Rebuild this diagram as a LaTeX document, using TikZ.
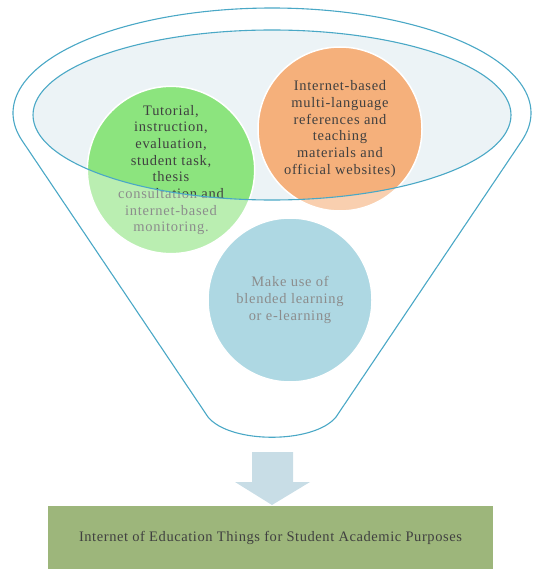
\documentclass[tikz,border=0pt]{standalone}
\usepackage{fontspec}
\setmainfont{Liberation Serif}
\newfontfamily\spacedfont[LetterSpace=5]{Liberation Serif}
\newfontfamily\boxfont[LetterSpace=4]{Liberation Serif}
\definecolor{funline}{HTML}{4AA8C6}
\definecolor{ellfill}{HTML}{ECF3F6}
\definecolor{cgreen}{HTML}{8CE47E}
\definecolor{corange}{HTML}{F5B07B}
\definecolor{cblue}{HTML}{78BFD1}
\definecolor{ctext}{HTML}{404040}
\definecolor{arrowc}{HTML}{C8DDE6}
\definecolor{boxc}{HTML}{9DB67B}
\tikzset{
  circ/.style={circle, minimum size=164pt, inner sep=0pt, draw=white, line width=1.5pt,
    align=center, text=ctext, font=\spacedfont\fontsize{14.5}{16.7}\selectfont},
  funnelstroke/.style={draw=funline, line width=1.1pt},
}
\begin{document}
\begin{tikzpicture}[x=1pt,y=-1pt]
\useasboundingbox (0,0) rectangle (540,569);
% inner ellipse fill
\fill[ellfill] (272,115) ellipse [x radius=239, y radius=85];
% circles
\node[circ, fill=cgreen] (g) at (171,170) {Tutorial,\\instruction,\\evaluation,\\student task,\\thesis\\consultation and\\internet-based\\monitoring.};
\node[circ, fill=corange] (o) at (340,129) {Internet-based\\multi-language\\references and\\teaching\\materials and\\official websites)};
\node[circ, fill=cblue] (b) at (290,300) {Make use of\\blended learning\\or e-learning};
% translucent funnel body
\fill[white, fill opacity=0.4, even odd rule]
  (336,417) -- (522.2,140.2) -- plot[domain=-15:195, samples=120, smooth] ({272+259*cos(\x)}, {113-105*sin(\x)})
  -- (208,417) .. controls (230,444) and (314,444) .. (336,417) -- cycle
  (272,115) ellipse [x radius=239, y radius=85];
% funnel outline
\draw[funnelstroke, line join=round]
  (336,417) -- (522.2,140.2) -- plot[domain=-15:195, samples=120, smooth] ({272+259*cos(\x)}, {113-105*sin(\x)})
  -- (208,417) .. controls (230,444) and (314,444) .. (336,417) -- cycle;
\draw[funnelstroke] (272,115) ellipse [x radius=239, y radius=85];
% arrow
\fill[arrowc] (252,452) coordinate (a1) -- (293,452) -- (293,482) -- (310,482) -- (272,505) coordinate (tip) -- (235,482) -- (252,482) -- cycle;
% result box
\node[fill=boxc, minimum width=445pt, minimum height=63pt, inner sep=0pt, anchor=north,
  text=ctext, font=\boxfont\fontsize{14.5}{18}\selectfont] (r) at (270.5,506) {Internet of Education Things for Student Academic Purposes};
\end{tikzpicture}
\end{document}
